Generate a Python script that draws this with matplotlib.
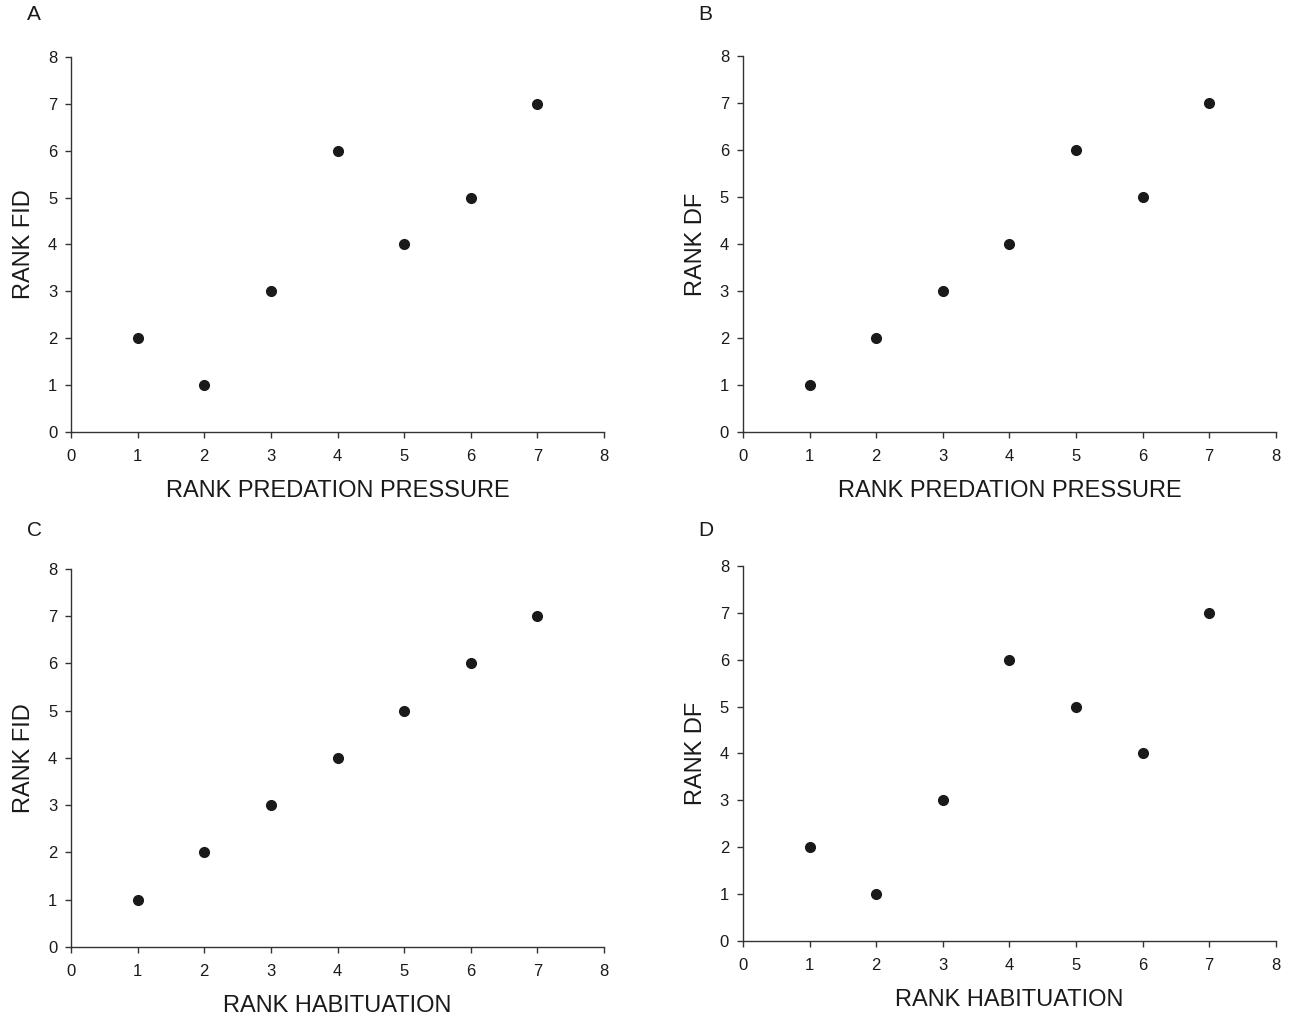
import matplotlib
matplotlib.use("Agg")
import matplotlib.pyplot as plt

plt.rcParams['font.family'] = ['Liberation Sans', 'DejaVu Sans']

rank_x = [1, 2, 3, 4, 5, 6, 7]
fid_predation = [2, 1, 3, 6, 4, 5, 7]
df_predation = [1, 2, 3, 4, 6, 5, 7]
fid_habituation = [1, 2, 3, 4, 5, 6, 7]
df_habituation = [2, 1, 3, 6, 5, 4, 7]

W, H = 1292, 1022

# letter, y values, x label, y label, axes rect, letter position (px)
panels = [
    ("A", fid_predation, "RANK PREDATION PRESSURE", "RANK FID", [0.055, 0.5773, 0.4125, 0.367], (27, 15)),
    ("B", df_predation, "RANK PREDATION PRESSURE", "RANK DF", [0.575, 0.5773, 0.4125, 0.368], (698, 15)),
    ("C", fid_habituation, "RANK HABITUATION", "RANK FID", [0.055, 0.0734, 0.4125, 0.370], (27, 530)),
    ("D", df_habituation, "RANK HABITUATION", "RANK DF", [0.575, 0.0793, 0.4125, 0.367], (698, 530)),
]

fig = plt.figure(figsize=(W / 100, H / 100), dpi=100)
ink = '#1a1a1a'

for letter, yvals, xlab, ylab, pos, lpos in panels:
    ax = fig.add_axes(pos)
    ax.plot(rank_x, yvals, 'o', color=ink, markersize=7, clip_on=False)
    ax.set_xlim(0, 8)
    ax.set_ylim(0, 8)
    ax.set_xticks(range(0, 9))
    ax.set_yticks(range(0, 9))
    ax.spines['top'].set_visible(False)
    ax.spines['right'].set_visible(False)
    for s in ['left', 'bottom']:
        ax.spines[s].set_color('#333333')
        ax.spines[s].set_linewidth(1.0)
    ax.tick_params(direction='out', length=4, width=1.0, color='#333333',
                   labelsize=12, labelcolor=ink)
    ax.tick_params(axis='x', pad=8)
    ax.tick_params(axis='y', pad=6)
    ax.set_xlabel(xlab, fontsize=17, color=ink, labelpad=12)
    ax.set_ylabel(ylab, fontsize=17, color=ink, labelpad=9)
    fig.text(lpos[0] / W, 1 - lpos[1] / H, letter, fontsize=15, color=ink,
             ha='left', va='center')

fig.savefig("out.png", dpi=100)
